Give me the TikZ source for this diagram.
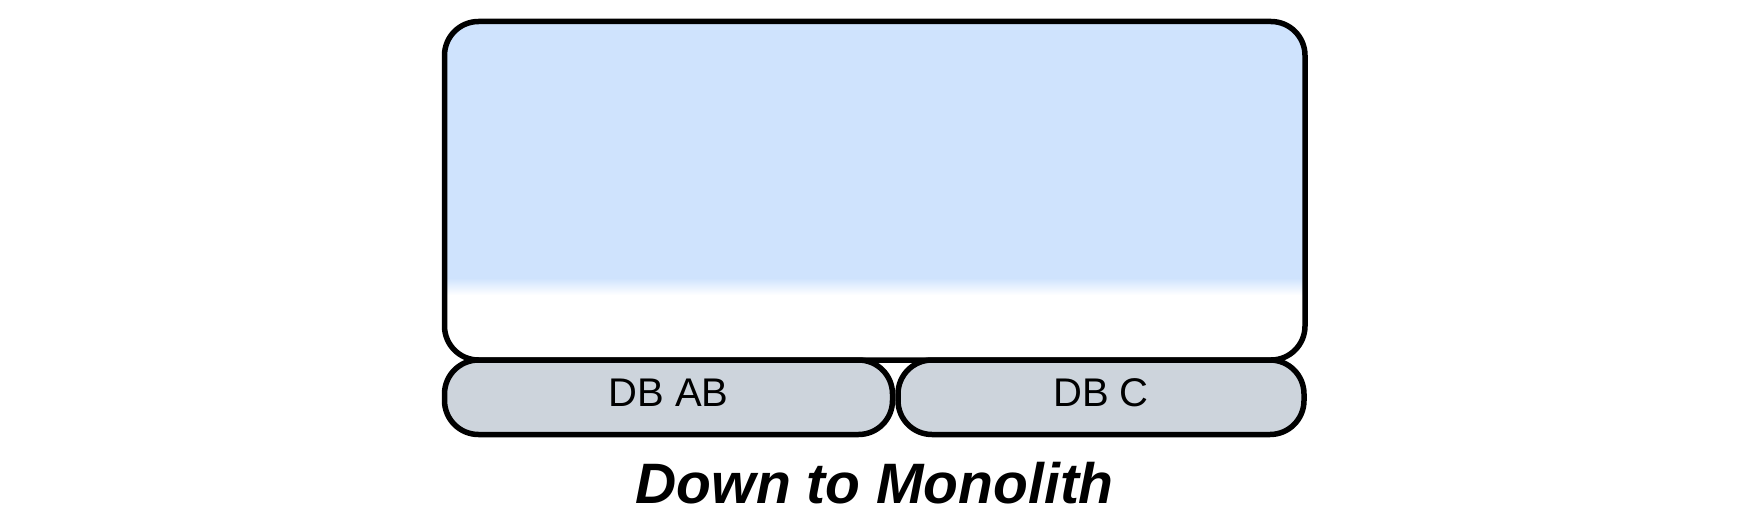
\documentclass[tikz,border=0pt]{standalone}
\usepackage{fontspec}
\setmainfont{Liberation Sans}
\definecolor{boxblue}{HTML}{CFE3FD}
\definecolor{dbgray}{HTML}{CDD4DC}
\tikzset{
  outline/.style={draw=black, line width=5.5pt, rounded corners=34pt},
  dbbox/.style={outline, fill=dbgray},
  dblabel/.style={font=\fontsize{40}{44}\selectfont, text=black, inner sep=0pt},
}
\begin{document}
\begin{tikzpicture}[x=1pt,y=-1pt]
\useasboundingbox (0,0) rectangle (1764,519);
% main box gradient fill
\begin{scope}
  \clip[rounded corners=34pt] (444.5,21.5) rectangle (1305,360);
  \fill[boxblue] (444.5,21.5) rectangle (1305,278);
  \shade[top color=boxblue, bottom color=white] (444.5,278) rectangle (1305,295);
  \fill[white] (444.5,295) rectangle (1305,360);
\end{scope}
\draw[outline] (444.5,21.5) rectangle (1305,360);
\node[coordinate] (main) at (874.75,190) {};
% database boxes
\draw[dbbox] (444.5,360) rectangle (892.5,434.5);
\draw[dbbox] (898,360) rectangle (1304,434.5);
\node[dblabel] (dbab) at (668.5,393) {DB AB};
\node[dblabel] (dbc) at (1101,393) {DB C};
% caption
\node[font=\fontsize{57}{62}\selectfont\bfseries\itshape, anchor=base, inner sep=0pt] (title) at (874.75,503) {Down to Monolith};
\end{tikzpicture}
\end{document}
